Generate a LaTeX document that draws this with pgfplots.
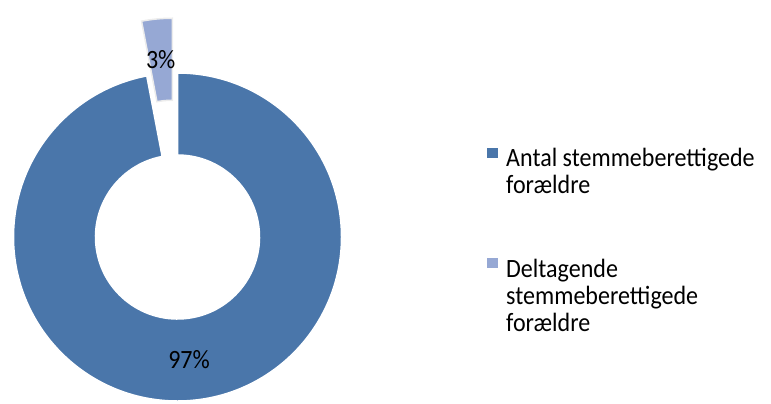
\documentclass[border=0pt]{standalone}
\usepackage{pgfplots}
\pgfplotsset{compat=1.18}
\usepackage{pgfplotstable}
\usepackage{fontspec}
\setmainfont{Carlito}
\newfontfamily\lblfont[FakeStretch=0.91]{Carlito}

\definecolor{darkslice}{RGB}{74,118,170}
\definecolor{lightslice}{RGB}{150,168,212}

% share of parents (percent)
\pgfplotstableread{
share  value
Antal  97
Delt   3
}\donutdata

\begin{document}
\begin{tikzpicture}
\pgfplotstablegetelem{0}{value}\of\donutdata \let\va\pgfplotsretval
\pgfplotstablegetelem{1}{value}\of\donutdata \let\vb\pgfplotsretval
\pgfmathsetmacro\tot{\va+\vb}
\pgfmathsetmacro\aA{90-360*(\va/\tot)}  % end of first slice (clockwise from top)
\pgfmathsetmacro\aB{\aA-360*(\vb/\tot)} % end of second slice
\pgfmathsetmacro\mA{(90+\aA)/2}
\pgfmathsetmacro\mB{(\aA+\aB)/2}
\def\cx{177.5}\def\cy{166}\def\Ro{164}\def\Ri{82}\def\ex{55}
\pgfmathsetmacro\ecx{\cx+\ex*cos(\mB)}
\pgfmathsetmacro\ecy{\cy+\ex*sin(\mB)}
\pgfmathsetmacro\lax{\cx+123*cos(\mA)}
\pgfmathsetmacro\lay{\cy+123*sin(\mA)}
\pgfmathsetmacro\lbx{\ecx+123*cos(\mB)}
\pgfmathsetmacro\lby{\ecy+123*sin(\mB)}
\begin{axis}[x=1bp, y=1bp, xmin=0, xmax=771, ymin=0, ymax=403,
  hide axis, clip=false]
  \path (axis cs:0,0) rectangle (axis cs:771,403);
  % dark slice
  \fill[darkslice, draw=white, line width=1.5bp]
    ([shift={(90:\Ro bp)}]axis cs:\cx,\cy)
      arc[start angle=90, end angle=\aA, radius=\Ro bp]
    -- ([shift={(\aA:\Ri bp)}]axis cs:\cx,\cy)
      arc[start angle=\aA, end angle=90, radius=\Ri bp] -- cycle;
  % light slice, pulled out
  \fill[lightslice, draw=white!85!gray, line width=1.5bp]
    ([shift={(\aA:\Ro bp)}]axis cs:\ecx,\ecy)
      arc[start angle=\aA, end angle=\aB, radius=\Ro bp]
    -- ([shift={(\aB:\Ri bp)}]axis cs:\ecx,\ecy)
      arc[start angle=\aB, end angle=\aA, radius=\Ri bp] -- cycle;
  \node[font=\lblfont\fontsize{26.5}{30}\selectfont] at (axis cs:\lax,\lay) {97\%};
  \node[font=\lblfont\fontsize{26.5}{30}\selectfont] at (axis cs:\lbx,\lby) {3\%};
  % legend
  \fill[darkslice] (axis cs:487,245) rectangle (axis cs:498,255);
  \fill[lightslice] (axis cs:487,135) rectangle (axis cs:498,145);
  \begin{scope}[every node/.style={anchor=base west, inner sep=0pt,
      font=\lblfont\fontsize{26.5}{30}\selectfont}]
    \node at (axis cs:506,237) {Antal stemmeberettigede};
    \node at (axis cs:506,210) {forældre};
    \node at (axis cs:506,126) {Deltagende};
    \node at (axis cs:506,99) {stemmeberettigede};
    \node at (axis cs:506,72) {forældre};
  \end{scope}
\end{axis}
\end{tikzpicture}
\end{document}
